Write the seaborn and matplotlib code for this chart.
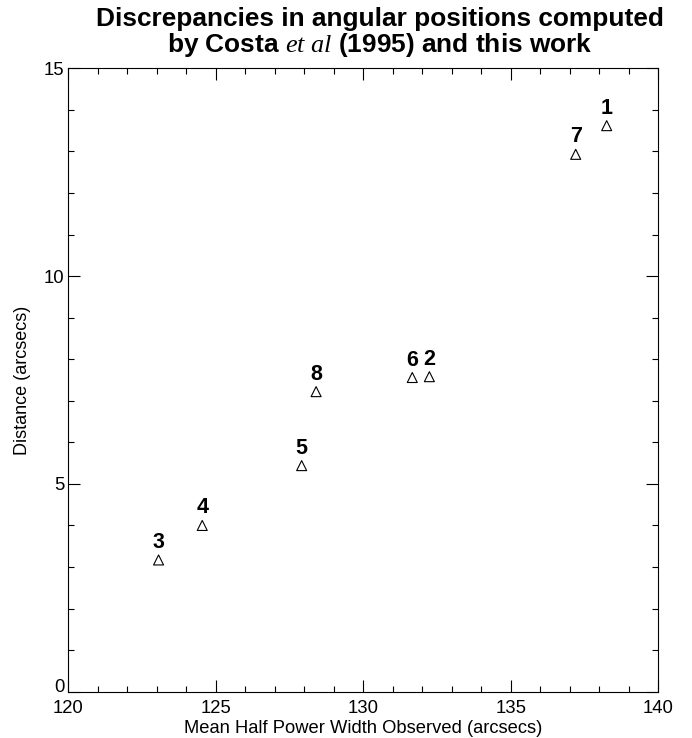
import matplotlib
matplotlib.use("Agg")
import matplotlib.pyplot as plt
from matplotlib.ticker import MultipleLocator
import seaborn as sns
import pandas as pd

# Data
labels = ["1", "2", "3", "4", "5", "6", "7", "8"]
half_power_width = [138.25, 132.24, 123.06, 124.54, 127.91, 131.66, 137.20, 128.40]
distance = [13.62, 7.58, 3.17, 4.00, 5.44, 7.56, 12.93, 7.22]

title_text = "Discrepancies in angular positions computed\nby Costa $\\mathit{et\\ al}$ (1995) and this work"
x_label = "Mean Half Power Width Observed (arcsecs)"
y_label = "Distance (arcsecs)"

df = pd.DataFrame({"x": half_power_width, "y": distance, "label": labels})

sns.set_theme(style="ticks")
plt.rcParams["font.family"] = ["Liberation Sans", "DejaVu Sans"]
plt.rcParams["mathtext.fontset"] = "custom"
plt.rcParams["mathtext.it"] = "Liberation Serif:italic"
plt.rcParams["mathtext.rm"] = "Liberation Serif"
for key in ["text.color", "axes.labelcolor", "xtick.color", "ytick.color",
            "axes.edgecolor"]:
    plt.rcParams[key] = "black"

DPI = 100
W, H = 692, 738
fig = plt.figure(figsize=(W / DPI, H / DPI), dpi=DPI)
ax_l, ax_r, ax_t, ax_b = 68.3, 658.3, 68.3, 691.7
ax = fig.add_axes([ax_l / W, 1 - ax_b / H, (ax_r - ax_l) / W, (ax_b - ax_t) / H])

sns.scatterplot(data=df, x="x", y="y", ax=ax, marker="^", s=7.2 ** 2,
                facecolor="none", edgecolor="black", linewidth=0.8, legend=False)

for xi, yi, lab in zip(df["x"], df["y"], df["label"]):
    ax.annotate(lab, (xi, yi), xytext=(0, 12), textcoords="offset pixels",
                ha="center", va="baseline", fontsize=15.5, fontweight="bold",
                color="black")

ax.set_xlim(120, 140)
ax.set_ylim(0, 15)
ax.xaxis.set_major_locator(MultipleLocator(5))
ax.xaxis.set_minor_locator(MultipleLocator(1))
ax.yaxis.set_major_locator(MultipleLocator(5))
ax.yaxis.set_minor_locator(MultipleLocator(1))
ax.tick_params(which="both", direction="in", top=True, right=True,
               width=0.8, colors="black", labelsize=13.3)
ax.tick_params(which="major", length=8.4)
ax.tick_params(which="minor", length=4.1)
ax.tick_params(axis="x", which="major", pad=6)
ax.tick_params(axis="y", which="major", pad=3)
for sp in ax.spines.values():
    sp.set_linewidth(0.8)
    sp.set_color("black")

ax.set_xlabel(x_label, fontsize=13.2)
ax.xaxis.label.set_va("baseline")
ax.xaxis.set_label_coords(0.5, -(733 - ax_b) / (ax_b - ax_t))
ax.set_ylabel(y_label, fontsize=13.0)
ax.yaxis.label.set_va("center")
ax.yaxis.label.set_rotation_mode("anchor")
ax.yaxis.set_label_coords((23 - ax_l) / (ax_r - ax_l), 0.5)

fig.text(379.5 / W, 1 - 7 / H, title_text, ha="center", va="top",
         fontsize=18.9, fontweight="bold", linespacing=1.0)

fig.canvas.draw()
for t in ax.yaxis.get_major_ticks():
    if abs(t.get_loc() - 0) < 1e-9:
        t.label1.set_va("baseline")

fig.savefig("out.png", dpi=DPI)
